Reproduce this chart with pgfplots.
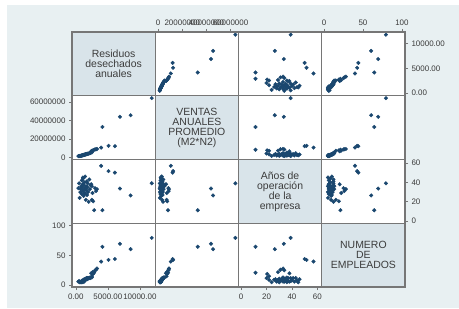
\documentclass[border=0pt]{standalone}
\usepackage{fontspec}
\setmainfont{Liberation Sans}
\usepackage{pgfplots}
\usepackage{pgfplotstable}
\pgfplotsset{compat=1.18}
\definecolor{bgc}{RGB}{232,240,242}
\definecolor{diagc}{RGB}{217,228,234}
\definecolor{navy}{RGB}{26,71,111}
\definecolor{gridc}{RGB}{118,118,118}
\definecolor{labc}{RGB}{60,60,60}

\pgfplotstableread{
R V A E
11850 64000000 39 79.5
8550 45500000 26.5 60.5
6880 43800000 33.6 69.5
4150 32800000 11.3 64.5
5100 12400000 51.5 42.5
6100 12000000 50 44
3950 10500000 57 39.7
2860 8200000 11.3 21
3300 9000000 33 28
3150 8700000 31 26
3000 8500000 34 25
2700 7500000 20.5 19
2500 7000000 22 15
2400 6500000 38 20
2600 7200000 29 22
700 1500000 30 5
800 1700000 33 6
850 1800000 36 5
900 1900000 28 7
950 2000000 42 6
1000 2100000 35 8
1050 2200000 38 6
1100 2300000 31 7
1150 2400000 44 8
1200 2500000 26 9
1250 2600000 37 7
1300 2700000 33 10
1350 2800000 40 8
1400 2900000 29 9
1450 3000000 46 10
1500 3100000 34 11
1550 3200000 22 9
1600 3300000 36 10
1650 3400000 32 11
1700 3500000 41 12
1750 3600000 27 10
1800 3700000 35 11
1850 3800000 39 12
1900 3900000 30 11
2000 4100000 20 12
2100 4300000 43 12
2200 4500000 33 13
2300 4700000 37 12
600 1400000 24 5
1100 2200000 45 5
1300 2600000 28 6
2500 5200000 36 13
400 1300000 34 6
500 1350000 39 7
}\data

\pgfplotsset{
  panel/.style={scale only axis, width=83.25bp, height=63.75bp, anchor=south west,
    axis line style={draw=none}, xtick=\empty, ytick=\empty, scaled ticks=false,
    major tick length=3bp, tick align=outside,
    every tick/.style={draw=gridc, line width=0.6bp},
    tick label style={font=\fontsize{8}{9}\selectfont, text=labc},
    clip=false},
  Rx/.style={xmin=-600,xmax=12400}, Ry/.style={ymin=-600,ymax=12400},
  Vx/.style={xmin=-2400000,xmax=66600000}, Vy/.style={ymin=-2400000,ymax=66600000},
  Ax/.style={xmin=-2.1,xmax=63.5}, Ay/.style={ymin=-2.1,ymax=63.5},
  Ex/.style={xmin=-3,xmax=104}, Ey/.style={ymin=-3,ymax=104},
  pts/.style={only marks, mark=*, mark size=1.8bp, color=navy, mark options={draw=navy, fill=navy}},
}

\begin{document}
\begin{tikzpicture}[x=1bp,y=1bp]
\path (0,0) rectangle (459,308);
\fill[bgc] (7,0) rectangle (459,303);
\fill[diagc] (72,212.25) rectangle (155.25,276);
\fill[diagc] (155.25,148.5) rectangle (238.5,212.25);
\fill[diagc] (238.5,84.75) rectangle (321.75,148.5);
\fill[diagc] (321.75,21) rectangle (405,84.75);
\fill[white] (155.25,212.25) rectangle (405,276);
\fill[white] (72,148.5) rectangle (155.25,212.25);
\fill[white] (238.5,148.5) rectangle (405,212.25);
\fill[white] (72,84.75) rectangle (238.5,148.5);
\fill[white] (321.75,84.75) rectangle (405,148.5);
\fill[white] (72,21) rectangle (321.75,84.75);

% Row 1
\begin{axis}[panel, at={(155.25bp,212.25bp)}, Vx, Ry,
  xtick={0,20000000,40000000,60000000}, xticklabels={0,20000000,40000000,60000000},
  xtick pos=right, xticklabel pos=right]
\addplot[pts] table[x=V,y=R]{\data};
\end{axis}
\begin{axis}[panel, at={(238.5bp,212.25bp)}, Ax, Ry]
\addplot[pts] table[x=A,y=R]{\data};
\end{axis}
\begin{axis}[panel, at={(321.75bp,212.25bp)}, Ex, Ry,
  xtick={0,50,100}, xticklabels={0,50,100}, xtick pos=right, xticklabel pos=right,
  ytick={0,5000,10000}, yticklabels={0.00,5000.00,10000.00}, ytick pos=right, yticklabel pos=right]
\addplot[pts] table[x=E,y=R]{\data};
\end{axis}

% Row 2
\begin{axis}[panel, at={(72bp,148.5bp)}, Rx, Vy,
  ytick={0,20000000,40000000,60000000}, yticklabels={0,20000000,40000000,60000000},
  ytick pos=left, yticklabel pos=left]
\addplot[pts] table[x=R,y=V]{\data};
\end{axis}
\begin{axis}[panel, at={(238.5bp,148.5bp)}, Ax, Vy]
\addplot[pts] table[x=A,y=V]{\data};
\end{axis}
\begin{axis}[panel, at={(321.75bp,148.5bp)}, Ex, Vy]
\addplot[pts] table[x=E,y=V]{\data};
\end{axis}

% Row 3
\begin{axis}[panel, at={(72bp,84.75bp)}, Rx, Ay]
\addplot[pts] table[x=R,y=A]{\data};
\end{axis}
\begin{axis}[panel, at={(155.25bp,84.75bp)}, Vx, Ay]
\addplot[pts] table[x=V,y=A]{\data};
\end{axis}
\begin{axis}[panel, at={(321.75bp,84.75bp)}, Ex, Ay,
  ytick={0,20,40,60}, yticklabels={0,20,40,60}, ytick pos=right, yticklabel pos=right]
\addplot[pts] table[x=E,y=A]{\data};
\end{axis}

% Row 4
\begin{axis}[panel, at={(72bp,21bp)}, Rx, Ey,
  xtick={0,5000,10000}, xticklabels={0.00,5000.00,10000.00}, xtick pos=left, xticklabel pos=left,
  ytick={0,50,100}, yticklabels={0,50,100}, ytick pos=left, yticklabel pos=left]
\addplot[pts] table[x=R,y=E]{\data};
\end{axis}
\begin{axis}[panel, at={(155.25bp,21bp)}, Vx, Ey]
\addplot[pts] table[x=V,y=E]{\data};
\end{axis}
\begin{axis}[panel, at={(238.5bp,21bp)}, Ax, Ey,
  xtick={0,20,40,60}, xticklabels={0,20,40,60}, xtick pos=left, xticklabel pos=left]
\addplot[pts] table[x=A,y=E]{\data};
\end{axis}

% grid
\draw[gridc, line width=1.3bp] (72,21) rectangle (405,276);
\foreach \xx in {155.25,238.5,321.75} \draw[gridc, line width=1.3bp] (\xx,21) -- (\xx,276);
\foreach \yy in {212.25,148.5,84.75} \draw[gridc, line width=1.3bp] (72,\yy) -- (405,\yy);

% diagonal labels
\tikzset{dlab/.style={align=center, text=labc, font=\fontsize{10.5}{10}\selectfont}}
\node[dlab] at (113.6,244.1) {Residuos\\desechados\\anuales};
\node[dlab] at (196.9,180.4) {VENTAS\\ANUALES\\PROMEDIO\\(M2*N2)};
\node[dlab] at (280.1,116.6) {Años de\\operación\\de la\\empresa};
\node[dlab] at (363.4,52.9) {NUMERO\\DE\\EMPLEADOS};
\end{tikzpicture}
\end{document}
